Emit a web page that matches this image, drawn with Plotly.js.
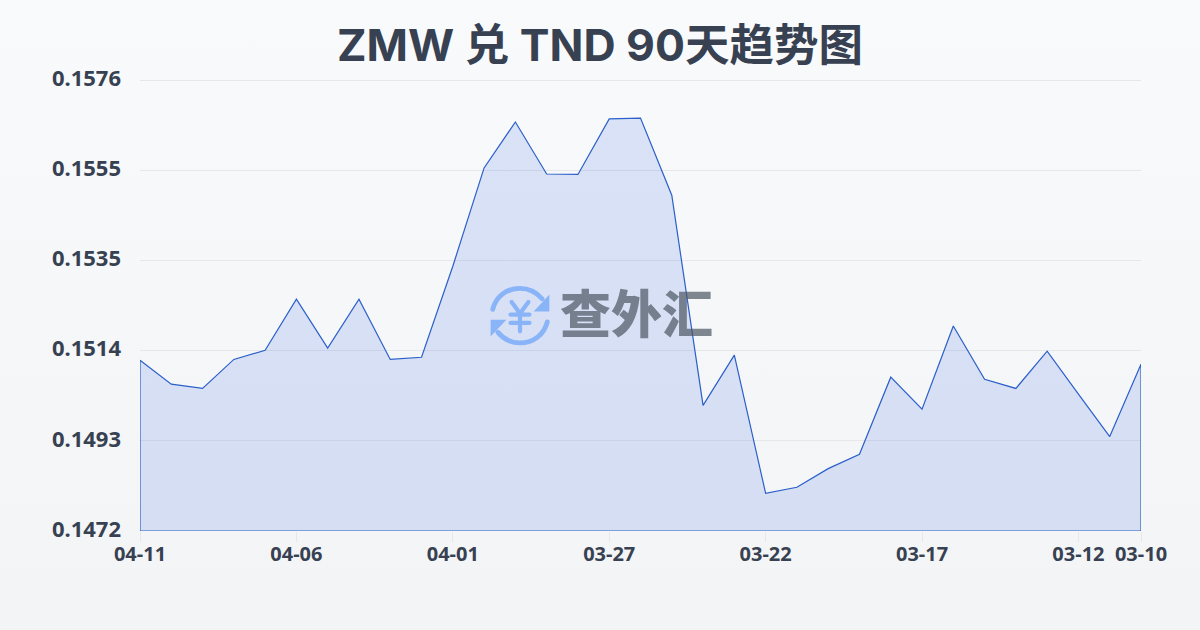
<!DOCTYPE html>
<html><head><meta charset="utf-8">
<script src="https://cdn.plot.ly/plotly-3.0.1.min.js"></script>
<style>
html,body{margin:0;padding:0;width:1200px;height:630px;overflow:hidden;background:linear-gradient(180deg,#f8fafc 0%,#f3f4f6 100%);}
#chart{position:absolute;left:0;top:0;width:1200px;height:630px;}
</style></head><body><div id="chart"></div>
<script>
const dates=["04-11","04-10","04-09","04-08","04-07","04-06","04-05","04-04","04-03","04-02","04-01","03-31","03-30","03-29","03-28","03-27","03-26","03-25","03-24","03-23","03-22","03-21","03-20","03-19","03-18","03-17","03-16","03-15","03-14","03-13","03-12","03-11","03-10"];
const rates=[0.15114,0.15059,0.15049,0.15116,0.15137,0.15255,0.15142,0.15255,0.15116,0.15121,0.15331,0.15558,0.15664,0.15544,0.15543,0.15671,0.15673,0.15495,0.15010,0.15126,0.14807,0.14821,0.14864,0.14897,0.15075,0.15001,0.15193,0.15070,0.15049,0.15135,0.15036,0.14938,0.15105];
const xTicks=["04-11","04-06","04-01","03-27","03-22","03-17","03-12","03-10"];
const yTicks=[0.1472,0.14928,0.15136,0.15344,0.15552,0.1576];
const yLabels=["0.1472","0.1493","0.1514","0.1535","0.1555","0.1576"];
const yMin=0.1472,yMax=0.1576,yPad=0.0000554;
const titleText="ZMW 兑 TND 90天趋势图";
const titleFont='Inter,"Noto Sans CJK SC",sans-serif';
const font='"Noto Sans","Noto Sans CJK SC",sans-serif';
const textColor='#374151';
const logoSvg='<svg xmlns="http://www.w3.org/2000/svg" viewBox="0 0 60 60"><g fill="none" stroke="#8ab4f8" stroke-width="4.6" stroke-linecap="round" stroke-linejoin="round"><path d="M4 24C7 12 17 4 30 4c9 0 16 4 21 10"/><path d="M56 36c-3 12-13 20-26 20-9 0-16-4-21-10"/><path d="M22 17l8 11 8-11M30 28v17M21 29h18M21 37h18" stroke-width="4"/></g><path d="M58 10v16H43z" fill="#8ab4f8"/><path d="M2 50V34h15z" fill="#8ab4f8"/></svg>';
const closeX=[dates[dates.length-1],dates[0],dates[0]];
const closeY=[yMin,yMin,rates[0]];
const H=452.8, T=78, W=1001;
Plotly.newPlot('chart',[{
  type:'scatter',mode:'lines',x:dates.concat(closeX),y:rates.concat(closeY),cliponaxis:false,
  fill:'toself',fillcolor:'rgba(44,92,224,0.15)',
  line:{color:'#2a5fc9',width:1.2,shape:'linear'},hoverinfo:'skip'
}],{
  width:1200,height:630,autosize:false,
  paper_bgcolor:'rgba(0,0,0,0)',plot_bgcolor:'rgba(0,0,0,0)',showlegend:false,
  margin:{l:140,r:59,t:T,b:99.2},
  title:{text:titleText,x:0.5,xanchor:'center',y:0.928,yanchor:'middle',font:{family:titleFont,size:44.5,color:textColor,weight:700}},
  xaxis:{type:'category',categoryorder:'array',categoryarray:dates,range:[0,dates.length-1],tickmode:'array',tickvals:xTicks,ticktext:xTicks,
    showgrid:false,zeroline:false,showline:false,ticks:'outside',ticklen:10,tickwidth:1,tickcolor:'#e5e7eb',ticklabelstandoff:-5,
    tickfont:{family:font,size:20,color:textColor,weight:700},tickangle:0},
  yaxis:{range:[yMin,yMax+yPad],tickmode:'array',tickvals:yTicks,ticktext:yLabels,showgrid:true,gridcolor:'#e5e7eb',gridwidth:1,zeroline:false,showline:false,ticks:'',ticklen:0,ticklabelstandoff:18,ticklabelshift:-2,
    tickfont:{family:font,size:22,color:textColor,weight:700}},
  images:[{source:'data:image/svg+xml;utf8,'+encodeURIComponent(logoSvg),xref:'paper',yref:'paper',x:(520-140)/W,y:1-(315.5-T)/H,sizex:63/W,sizey:63/H,xanchor:'center',yanchor:'middle',sizing:'contain',layer:'above'}],
  annotations:[{text:'查外汇',xref:'paper',yref:'paper',x:(636-140)/W,y:1-(311-T)/H,xanchor:'center',yanchor:'middle',showarrow:false,font:{family:'"Noto Sans CJK SC",sans-serif',size:51,color:'rgba(75,85,99,0.7)',weight:900}}]
},{displayModeBar:false,staticPlot:true});
</script></body></html>
